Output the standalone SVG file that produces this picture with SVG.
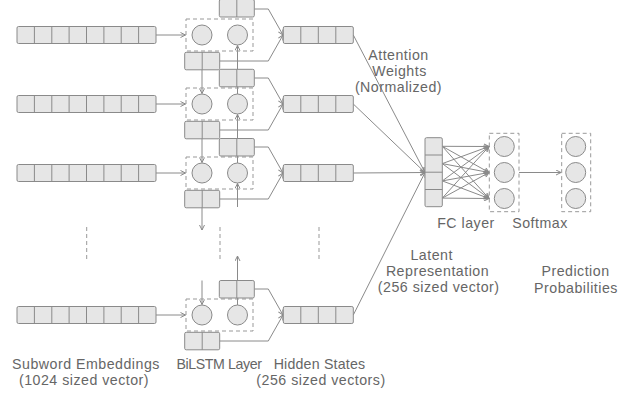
<svg xmlns="http://www.w3.org/2000/svg" width="636" height="396" viewBox="0 0 636 396">
<defs>
<style>
.box{fill:#e6e6e6;stroke:#8a8a8a;stroke-width:1}
.div{stroke:#8a8a8a;stroke-width:1;fill:none}
.cir{fill:#e6e6e6;stroke:#8a8a8a;stroke-width:1}
.dash{fill:none;stroke:#999;stroke-width:1;stroke-dasharray:4 3}
.ar{fill:none;stroke:#8a8a8a;stroke-width:1;marker-end:url(#ah)}
.dots{fill:none;stroke:#999;stroke-width:1;stroke-dasharray:4 3}
text{font-family:"Liberation Sans",Arial,sans-serif;font-size:14.2px;letter-spacing:0.5px;fill:#666;text-anchor:middle}
</style>
<marker id="ah" viewBox="0 0 6 6" refX="5.5" refY="3" markerWidth="6" markerHeight="6" markerUnits="userSpaceOnUse" orient="auto">
<path d="M0.5,0.5 L5.5,3 L0.5,5.5" fill="none" stroke="#8a8a8a" stroke-width="1"/>
</marker>
<g id="emb">
<rect class="box" x="0" y="-8.5" width="139" height="17" rx="1.5"/>
<path class="div" d="M17.4,-8.5V8.5M34.8,-8.5V8.5M52.1,-8.5V8.5M69.5,-8.5V8.5M86.9,-8.5V8.5M104.2,-8.5V8.5M121.6,-8.5V8.5"/>
</g>
<g id="hid">
<rect class="box" x="0" y="-8.5" width="70" height="17" rx="1.5"/>
<path class="div" d="M17.5,-8.5V8.5M35,-8.5V8.5M52.5,-8.5V8.5"/>
</g>
<g id="two">
<rect class="box" x="0" y="0" width="35" height="17.5" rx="1.5"/>
<path class="div" d="M17.5,0V17.5"/>
</g>
</defs>
<rect width="636" height="396" fill="#fff"/>

<g id="connectors">
<path class="ar" d="M156,35H185.5"/>
<path class="ar" d="M156,104H185.5"/>
<path class="ar" d="M156,173H185.5"/>
<path class="ar" d="M156,315H185.5"/>
<path class="ar" d="M202,52.3V93.5"/>
<path class="ar" d="M202,121.3V162.5"/>
<path class="ar" d="M202,190.3V230"/>
<path class="ar" d="M202,280.5V304.5"/>
<path class="ar" d="M237.5,94V45.5"/>
<path class="ar" d="M237.5,163V114.5"/>
<path class="ar" d="M237.5,207V183.5"/>
<path class="ar" d="M237.5,305V256"/>
<path class="ar" d="M254.3,9H268.3L283,35"/>
<path class="ar" d="M219.3,61H268.3L283,35"/>
<path class="ar" d="M254.3,78H268.3L283,104"/>
<path class="ar" d="M219.3,130H268.3L283,104"/>
<path class="ar" d="M254.3,147H268.3L283,173"/>
<path class="ar" d="M219.3,199H268.3L283,173"/>
<path class="ar" d="M254.3,289H268.3L283,315"/>
<path class="ar" d="M219.3,341H268.3L283,315"/>
<path class="ar" d="M353.3,35L425,172.5"/>
<path class="ar" d="M353.3,104L425,172.5"/>
<path class="ar" d="M353.3,173L425,172.5"/>
<path class="ar" d="M353.3,315L425,172.5"/>
<path class="ar" d="M442.3,146.3L489,146.5"/>
<path class="ar" d="M442.3,146.3L489,172.5"/>
<path class="ar" d="M442.3,146.3L489,198.5"/>
<path class="ar" d="M442.3,163.6L489,146.5"/>
<path class="ar" d="M442.3,163.6L489,172.5"/>
<path class="ar" d="M442.3,163.6L489,198.5"/>
<path class="ar" d="M442.3,180.9L489,146.5"/>
<path class="ar" d="M442.3,180.9L489,172.5"/>
<path class="ar" d="M442.3,180.9L489,198.5"/>
<path class="ar" d="M442.3,198.1L489,146.5"/>
<path class="ar" d="M442.3,198.1L489,172.5"/>
<path class="ar" d="M442.3,198.1L489,198.5"/>
<path class="ar" d="M519,172.5H561"/>
<path class="dots" d="M86.7,227V260"/>
<path class="dots" d="M220,227V260"/>
<path class="dots" d="M319,227V260"/>
</g>

<g id="embeddings">
<use href="#emb" x="17" y="35"/>
<use href="#emb" x="17" y="104"/>
<use href="#emb" x="17" y="173"/>
<use href="#emb" x="17" y="315"/>
</g>

<g id="bilstm-1">
<rect class="dash" x="186" y="19" width="67" height="32"/>
<circle class="cir" cx="202" cy="35" r="10"/>
<circle class="cir" cx="237.5" cy="35" r="10"/>
<use href="#two" x="219.3" y="-0.5"/>
<use href="#two" x="184.7" y="52.3"/>
</g>
<g id="bilstm-2">
<rect class="dash" x="186" y="88" width="67" height="32"/>
<circle class="cir" cx="202" cy="104" r="10"/>
<circle class="cir" cx="237.5" cy="104" r="10"/>
<use href="#two" x="219.3" y="69.3"/>
<use href="#two" x="184.7" y="121.3"/>
</g>
<g id="bilstm-3">
<rect class="dash" x="186" y="157" width="67" height="32"/>
<circle class="cir" cx="202" cy="173" r="10"/>
<circle class="cir" cx="237.5" cy="173" r="10"/>
<use href="#two" x="219.3" y="138.5"/>
<use href="#two" x="184.7" y="190.3"/>
</g>
<g id="bilstm-4">
<rect class="dash" x="186" y="299" width="67" height="32"/>
<circle class="cir" cx="202" cy="315" r="10"/>
<circle class="cir" cx="237.5" cy="315" r="10"/>
<use href="#two" x="219.3" y="280.5"/>
<use href="#two" x="184.7" y="332.3"/>
</g>

<g id="hidden-states">
<use href="#hid" x="283.3" y="35"/>
<use href="#hid" x="283.3" y="104"/>
<use href="#hid" x="283.3" y="173"/>
<use href="#hid" x="283.3" y="315"/>
</g>

<g id="latent">
<rect class="box" x="425" y="137.7" width="17.3" height="69" rx="1.5"/>
<path class="div" d="M425,155H442.3M425,172.2H442.3M425,189.5H442.3"/>
</g>

<g id="fc-output">
<rect class="dash" x="489.3" y="133.3" width="29.7" height="78.4"/>
<circle class="cir" cx="504.3" cy="146.5" r="10"/>
<circle class="cir" cx="504.3" cy="172.5" r="10"/>
<circle class="cir" cx="504.3" cy="198.5" r="10"/>
</g>

<g id="prediction">
<rect class="dash" x="561.7" y="133.3" width="29" height="78.4"/>
<circle class="cir" cx="575.7" cy="146.5" r="10"/>
<circle class="cir" cx="575.7" cy="172.5" r="10"/>
<circle class="cir" cx="575.7" cy="198.5" r="10"/>
</g>

<g id="labels">
<text x="398.5" y="59.5">Attention</text>
<text x="399.5" y="75.5">Weights</text>
<text x="398.5" y="91.5">(Normalized)</text>
<text x="466" y="227.5">FC layer</text>
<text x="540" y="227.5">Softmax</text>
<text x="431.7" y="259.5">Latent</text>
<text x="437.5" y="275.8">Representation</text>
<text x="438.7" y="292">(256 sized vector)</text>
<text x="575.5" y="276.2">Prediction</text>
<text x="576" y="292.5">Probabilities</text>
<text x="86" y="368.5">Subword Embeddings</text>
<text x="84" y="385">(1024 sized vector)</text>
<text x="219" y="368.5" style="letter-spacing:-0.4px">BiLSTM Layer</text>
<text x="319.5" y="368.5" style="letter-spacing:0.2px">Hidden States</text>
<text x="321" y="385">(256 sized vectors)</text>
</g>
</svg>
